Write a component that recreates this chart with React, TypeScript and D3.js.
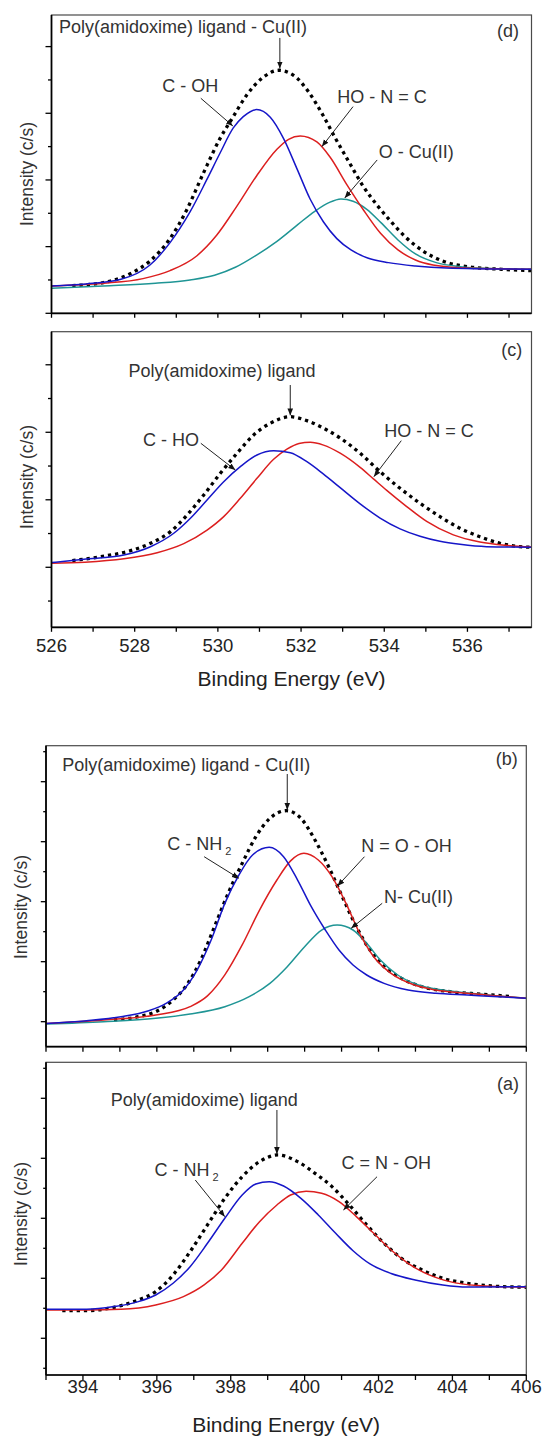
import React from 'react';
import * as d3 from 'd3';

type Pt = [number, number];

// ---------- Panel (d): O 1s, Poly(amidoxime) ligand - Cu(II)  [eV, intensity]
const dEnvelope: Pt[] = [
  [526.5, 0.415], [527.25, 0.46], [527.88, 0.59], [528.36, 0.78], [528.85, 1.12], [529.25, 1.55],
  [529.65, 2.1], [530.05, 2.62], [530.37, 2.95], [530.69, 3.27], [531.09, 3.54], [531.46, 3.645],
  [531.82, 3.57], [532.17, 3.33], [532.5, 3.0], [532.83, 2.62], [533.17, 2.25], [533.5, 1.9],
  [533.83, 1.62], [534.17, 1.37], [534.5, 1.15], [534.92, 0.94], [535.42, 0.78], [536.0, 0.7],
  [536.83, 0.66], [537.55, 0.64],
];
const dCOH: Pt[] = [
  [526.0, 0.41], [526.83, 0.44], [527.67, 0.51], [528.36, 0.72], [528.85, 1.06], [529.33, 1.52],
  [529.73, 2.0], [530.05, 2.4], [530.37, 2.78], [530.61, 2.95], [530.93, 3.055], [531.26, 2.94],
  [531.58, 2.62], [531.9, 2.17], [532.22, 1.71], [532.54, 1.37], [532.86, 1.12], [533.2, 0.95],
  [533.6, 0.83], [534.1, 0.76], [534.75, 0.71], [535.5, 0.68], [537.55, 0.66],
];
const dHONC: Pt[] = [
  [526.0, 0.41], [527.25, 0.45], [528.2, 0.52], [528.85, 0.64], [529.49, 0.86], [529.97, 1.17],
  [530.45, 1.6], [530.93, 2.06], [531.42, 2.46], [531.7, 2.61], [531.98, 2.66], [532.38, 2.57],
  [532.7, 2.34], [533.1, 1.93], [533.5, 1.55], [533.91, 1.2], [534.33, 0.95], [534.75, 0.8],
  [535.17, 0.725], [535.83, 0.685], [537.55, 0.66],
];
const dOCu: Pt[] = [
  [526.0, 0.375], [527.25, 0.41], [528.5, 0.45], [529.33, 0.5], [529.92, 0.57], [530.42, 0.69],
  [530.92, 0.87], [531.42, 1.08], [531.92, 1.33], [532.33, 1.53], [532.67, 1.66], [532.96, 1.715],
  [533.25, 1.68], [533.58, 1.56], [533.92, 1.36], [534.33, 1.1], [534.75, 0.89], [535.25, 0.76],
  [535.83, 0.7], [536.42, 0.675], [537.55, 0.66],
];

// ---------- Panel (c): O 1s, Poly(amidoxime) ligand
const cEnvelope: Pt[] = [
  [526.5, 0.1], [527.18, 0.157], [527.9, 0.246], [528.38, 0.355], [528.86, 0.528], [529.26, 0.775],
  [529.66, 1.071], [530.06, 1.393], [530.46, 1.689], [530.86, 1.96], [531.26, 2.133], [531.74, 2.231],
  [532.14, 2.172], [532.62, 2.034], [532.94, 1.915], [533.42, 1.689], [533.9, 1.416], [534.38, 1.17],
  [534.86, 0.948], [535.34, 0.75], [535.82, 0.578], [536.3, 0.453], [536.78, 0.356], [537.26, 0.306],
  [537.55, 0.296],
];
const cCHO: Pt[] = [
  [526.0, 0.07], [526.78, 0.118], [527.74, 0.182], [528.38, 0.305], [528.94, 0.504], [529.34, 0.726],
  [529.74, 0.997], [530.14, 1.268], [530.54, 1.49], [530.94, 1.664], [531.34, 1.727], [531.74, 1.698],
  [532.14, 1.564], [532.54, 1.38], [532.94, 1.18], [533.42, 0.94], [533.9, 0.73], [534.38, 0.57],
  [534.86, 0.46], [535.34, 0.385], [535.82, 0.34], [536.46, 0.305], [537.55, 0.296],
];
const cHONC: Pt[] = [
  [526.0, 0.06], [526.8, 0.075], [527.74, 0.125], [528.54, 0.215], [529.18, 0.35], [529.74, 0.55],
  [530.14, 0.75], [530.54, 1.022], [530.94, 1.318], [531.34, 1.6], [531.66, 1.75], [531.95, 1.835],
  [532.22, 1.852], [532.54, 1.81], [532.94, 1.69], [533.42, 1.48], [533.74, 1.31], [534.06, 1.14],
  [534.54, 0.9], [535.02, 0.68], [535.66, 0.48], [536.3, 0.375], [536.94, 0.325], [537.55, 0.3],
];

// ---------- Panel (b): N 1s, Poly(amidoxime) ligand - Cu(II)
const bEnvelope: Pt[] = [
  [394.84, 0.028], [395.5, 0.083], [395.97, 0.167], [396.44, 0.361], [396.81, 0.611], [397.19, 1.028],
  [397.56, 1.583], [397.93, 2.139], [398.31, 2.639], [398.68, 3.083], [399.06, 3.389], [399.51, 3.517],
  [399.9, 3.389], [400.28, 3.028], [400.65, 2.583], [401.02, 2.083], [401.4, 1.583], [401.77, 1.194],
  [402.15, 0.917], [402.62, 0.722], [403.18, 0.583], [403.93, 0.5], [404.86, 0.456], [405.61, 0.417],
];
const bCNH2: Pt[] = [
  [393.0, -0.03], [394.1, 0.017], [395.03, 0.083], [395.78, 0.183], [396.25, 0.306], [396.72, 0.528],
  [397.09, 0.861], [397.47, 1.361], [397.84, 1.972], [398.22, 2.444], [398.59, 2.778], [399.04, 2.906],
  [399.43, 2.75], [399.81, 2.361], [400.18, 1.917], [400.56, 1.528], [400.93, 1.194], [401.31, 0.944],
  [401.68, 0.778], [402.15, 0.639], [402.8, 0.528], [403.55, 0.472], [404.4, 0.444], [405.24, 0.417],
  [406.0, 0.389],
];
const bNOOH: Pt[] = [
  [393.0, -0.03], [394.56, 0.028], [395.97, 0.111], [396.9, 0.25], [397.37, 0.43], [397.84, 0.78],
  [398.31, 1.28], [398.78, 1.861], [399.25, 2.361], [399.62, 2.68], [399.98, 2.806], [400.37, 2.694],
  [400.74, 2.417], [401.12, 1.972], [401.49, 1.472], [401.87, 1.083], [402.34, 0.806], [402.9, 0.628],
  [403.55, 0.528], [404.4, 0.472], [405.24, 0.428], [406.0, 0.389],
];
const bNCu: Pt[] = [
  [393.0, -0.039], [394.56, 0.0], [395.97, 0.056], [396.9, 0.128], [397.84, 0.25], [398.5, 0.417],
  [399.06, 0.639], [399.53, 0.917], [400.0, 1.25], [400.46, 1.528], [400.88, 1.611], [401.31, 1.528],
  [401.68, 1.306], [402.05, 1.028], [402.52, 0.778], [403.08, 0.611], [403.74, 0.528], [404.49, 0.472],
  [405.24, 0.428], [406.0, 0.389],
];

// ---------- Panel (a): N 1s, Poly(amidoxime) ligand
const aEnvelope: Pt[] = [
  [393.44, 0.461], [394.1, 0.461], [394.84, 0.517], [395.5, 0.639], [395.97, 0.778], [396.44, 1.056],
  [396.9, 1.444], [397.37, 1.889], [397.84, 2.333], [398.31, 2.694], [398.78, 2.944], [399.29, 3.056],
  [399.81, 2.944], [400.28, 2.75], [400.74, 2.528], [401.21, 2.222], [401.68, 1.889], [402.15, 1.583],
  [402.62, 1.333], [403.18, 1.139], [403.74, 1.0], [404.4, 0.917], [405.05, 0.872], [406.0, 0.85],
];
const aCNH2: Pt[] = [
  [393.0, 0.483], [394.1, 0.483], [394.84, 0.528], [395.5, 0.611], [395.97, 0.722], [396.44, 0.917],
  [396.9, 1.194], [397.37, 1.583], [397.84, 2.0], [398.31, 2.389], [398.68, 2.572], [399.04, 2.611],
  [399.43, 2.539], [399.9, 2.333], [400.37, 2.056], [400.84, 1.75], [401.31, 1.46], [401.77, 1.24],
  [402.34, 1.08], [402.99, 0.972], [403.74, 0.889], [404.4, 0.855], [406.0, 0.861],
];
const aCNOH: Pt[] = [
  [393.0, 0.472], [394.1, 0.472], [395.03, 0.483], [395.97, 0.556], [396.72, 0.694], [397.28, 0.889],
  [397.75, 1.139], [398.31, 1.583], [398.78, 1.944], [399.25, 2.222], [399.62, 2.389], [400.04, 2.45],
  [400.46, 2.417], [400.93, 2.278], [401.4, 2.028], [401.87, 1.75], [402.34, 1.472], [402.8, 1.25],
  [403.37, 1.056], [403.93, 0.944], [404.68, 0.878], [405.33, 0.861], [406.0, 0.85],
];

// ---------- Axis texts
const oTickLabels = [526, 528, 530, 532, 534, 536];
const nTickLabels = [394, 396, 398, 400, 402, 404, 406];
const X_TITLE = 'Binding Energy (eV)';
const Y_TITLE = 'Intensity (c/s)';

// ---------- Styles
const BLUE = '#1616c8';
const RED = '#dc1f1f';
const TEAL = '#1f9595';
const FONT = '"Liberation Sans", Arial, Helvetica, sans-serif';
const TEXT = '#333';

interface Series { data: Pt[]; color: string; dotted?: boolean }
interface Part { t: string; sub?: boolean }
interface Label { parts: Part[]; at: Pt; anchor?: 'start' | 'end' }
interface Arrow { from: Pt; to: Pt }
interface PanelCfg {
  id: string;
  left: number; right: number; top: number; bottom: number;
  xDomain: [number, number]; yDomain: [number, number];
  series: Series[]; labels: Label[]; arrows: Arrow[];
  tickLabels?: number[]; tickLabelY?: number; titleY?: number;
  yTitleX: number; yTitleY: number;
  majorLen: number; minorLen: number; xTickLen: number;
}

const panels: PanelCfg[] = [
  {
    id: 'd', left: 51.5, right: 531.5, top: 15, bottom: 313.3,
    xDomain: [526, 537.54], yDomain: [0, 4.474],
    series: [
      { data: dEnvelope, color: '#000', dotted: true },
      { data: dOCu, color: TEAL },
      { data: dHONC, color: RED },
      { data: dCOH, color: BLUE },
    ],
    labels: [
      { parts: [{ t: 'Poly(amidoxime) ligand - Cu(II)' }], at: [526.18, 4.197] },
      { parts: [{ t: '(d)' }], at: [537.24, 4.137], anchor: 'end' },
      { parts: [{ t: 'C - OH' }], at: [528.66, 3.324] },
      { parts: [{ t: 'HO - N = C' }], at: [532.87, 3.15] },
      { parts: [{ t: 'O - Cu(II)' }], at: [533.87, 2.325] },
    ],
    arrows: [
      { from: [531.49, 4.13], to: [531.49, 3.67] },
      { from: [529.59, 3.225], to: [530.36, 2.81] },
      { from: [533.25, 3.1], to: [532.5, 2.5] },
      { from: [533.83, 2.3], to: [533.05, 1.73] },
    ],
    yTitleX: 33, yTitleY: 174, majorLen: 6, minorLen: 3.5, xTickLen: 4.5,
  },
  {
    id: 'c', left: 51.5, right: 531.5, top: 331.7, bottom: 627.3,
    xDomain: [526, 537.54], yDomain: [-0.889, 3.49],
    series: [
      { data: cEnvelope, color: '#000', dotted: true },
      { data: cHONC, color: RED },
      { data: cCHO, color: BLUE },
    ],
    labels: [
      { parts: [{ t: '(c)' }], at: [537.32, 3.13], anchor: 'end' },
      { parts: [{ t: 'Poly(amidoxime) ligand' }], at: [527.85, 2.824] },
      { parts: [{ t: 'C - HO' }], at: [528.2, 1.797] },
      { parts: [{ t: 'HO - N = C' }], at: [534.0, 1.926] },
    ],
    arrows: [
      { from: [531.74, 2.7], to: [531.74, 2.25] },
      { from: [529.59, 1.837], to: [530.42, 1.441] },
      { from: [534.41, 1.876], to: [533.75, 1.342] },
    ],
    tickLabels: oTickLabels, tickLabelY: 651.7, titleY: 686,
    yTitleX: 33, yTitleY: 477, majorLen: 6, minorLen: 3.5, xTickLen: 4.5,
  },
  {
    id: 'b', left: 46, right: 526.3, top: 745.7, bottom: 1046.7,
    xDomain: [393, 406], yDomain: [-0.417, 4.6],
    series: [
      { data: bEnvelope, color: '#000', dotted: true },
      { data: bNCu, color: TEAL },
      { data: bNOOH, color: RED },
      { data: bCNH2, color: BLUE },
    ],
    labels: [
      { parts: [{ t: '(b)' }], at: [405.77, 4.278], anchor: 'end' },
      { parts: [{ t: 'Poly(amidoxime) ligand - Cu(II)' }], at: [393.44, 4.183] },
      { parts: [{ t: 'C - NH' }, { t: '2', sub: true }], at: [396.28, 2.862] },
      { parts: [{ t: 'N = O - OH' }], at: [401.53, 2.833] },
      { parts: [{ t: 'N- Cu(II)' }], at: [402.15, 1.983] },
    ],
    arrows: [
      { from: [399.53, 4.128], to: [399.53, 3.53] },
      { from: [397.28, 2.75], to: [398.22, 2.39] },
      { from: [401.62, 2.75], to: [400.89, 2.262] },
      { from: [402.1, 1.973], to: [401.26, 1.557] },
    ],
    yTitleX: 27, yTitleY: 907, majorLen: 5.2, minorLen: 2.8, xTickLen: 5,
  },
  {
    id: 'a', left: 46, right: 526.3, top: 1062.3, bottom: 1375,
    xDomain: [393, 406], yDomain: [-0.612, 4.6],
    series: [
      { data: aEnvelope, color: '#000', dotted: true },
      { data: aCNOH, color: RED },
      { data: aCNH2, color: BLUE },
    ],
    labels: [
      { parts: [{ t: '(a)' }], at: [405.8, 4.138], anchor: 'end' },
      { parts: [{ t: 'Poly(amidoxime) ligand' }], at: [394.75, 3.872] },
      { parts: [{ t: 'C - NH' }, { t: '2', sub: true }], at: [395.94, 2.71] },
      { parts: [{ t: 'C = N - OH' }], at: [401.0, 2.817] },
    ],
    arrows: [
      { from: [399.25, 3.805], to: [399.25, 3.07] },
      { from: [397.04, 2.638], to: [397.84, 2.027] },
      { from: [401.96, 2.693], to: [401.05, 2.138] },
    ],
    tickLabels: nTickLabels, tickLabelY: 1393.3, titleY: 1432,
    yTitleX: 27, yTitleY: 1214, majorLen: 5.2, minorLen: 2.8, xTickLen: 5,
  },
];

function Panel({ cfg }: { cfg: PanelCfg }) {
  const x = d3.scaleLinear().domain(cfg.xDomain).range([cfg.left, cfg.right]);
  const y = d3.scaleLinear().domain(cfg.yDomain).range([cfg.bottom, cfg.top]);
  const line = d3.line<Pt>().x(d => x(d[0])).y(d => y(d[1])).curve(d3.curveMonotoneX);

  const xTicks = d3.range(Math.ceil(cfg.xDomain[0]), Math.floor(cfg.xDomain[1]) + 1, 1);
  const kMin = Math.ceil(cfg.yDomain[0] / 0.5 - 1e-6);
  const kMax = Math.floor(cfg.yDomain[1] / 0.5 + 1e-6);
  const yTicks = d3.range(kMin, kMax + 1).map(k => ({ v: k * 0.5, major: k % 2 === 0 }));
  const clipId = `clip-${cfg.id}`;

  return (
    <g>
      <defs>
        <clipPath id={clipId}>
          <rect x={cfg.left} y={cfg.top} width={cfg.right - cfg.left} height={cfg.bottom - cfg.top} />
        </clipPath>
      </defs>
      <g clipPath={`url(#${clipId})`}>
        {cfg.series.map((s, i) => (
          <path
            key={i}
            d={line(s.data) || ''}
            fill="none"
            stroke={s.color}
            strokeWidth={s.dotted ? 3.3 : 1.5}
            strokeDasharray={s.dotted ? '3.3 3.9' : undefined}
            strokeLinejoin="round"
          />
        ))}
      </g>
      <rect x={cfg.left} y={cfg.top} width={cfg.right - cfg.left} height={cfg.bottom - cfg.top}
        fill="none" stroke="#4a4a4a" strokeWidth={1.2} />
      <line x1={cfg.left} x2={cfg.left} y1={cfg.top} y2={cfg.bottom} stroke="#000" strokeWidth={1.7} />
      <line x1={cfg.left} x2={cfg.right} y1={cfg.bottom} y2={cfg.bottom} stroke="#000" strokeWidth={1.7} />
      {yTicks.map((t, i) => (
        <line key={`y${i}`} x1={cfg.left - (t.major ? cfg.majorLen : cfg.minorLen)} x2={cfg.left}
          y1={y(t.v)} y2={y(t.v)} stroke="#000" strokeWidth={1.3} />
      ))}
      {xTicks.map((t, i) => (
        <line key={`x${i}`} x1={x(t)} x2={x(t)} y1={cfg.bottom} y2={cfg.bottom + cfg.xTickLen}
          stroke="#000" strokeWidth={1.3} />
      ))}
      {cfg.tickLabels && cfg.tickLabels.map((t, i) => (
        <text key={`xl${i}`} x={x(t)} y={cfg.tickLabelY} textAnchor="middle" fontSize={18.5}
          fontFamily={FONT} fill="#222">{t}</text>
      ))}
      {cfg.titleY !== undefined && (
        <text x={(cfg.left + cfg.right) / 2} y={cfg.titleY} textAnchor="middle" fontSize={21}
          fontFamily={FONT} fill="#222">{X_TITLE}</text>
      )}
      <text transform={`translate(${cfg.yTitleX},${cfg.yTitleY}) rotate(-90)`} textAnchor="middle"
        fontSize={17.5} fontFamily={FONT} fill={TEXT}>{Y_TITLE}</text>
      {cfg.arrows.map((a, i) => (
        <line key={`a${i}`} x1={x(a.from[0])} y1={y(a.from[1])} x2={x(a.to[0])} y2={y(a.to[1])}
          stroke="#222" strokeWidth={1} markerEnd="url(#arrowhead)" />
      ))}
      {cfg.labels.map((l, i) => (
        <text key={`l${i}`} x={x(l.at[0])} y={y(l.at[1])} textAnchor={l.anchor || 'start'}
          fontSize={18} fontFamily={FONT} fill={TEXT}>
          {l.parts.map((p, j) => p.sub ? (
            <tspan key={j} dx={3} dy={5} fontSize={11}>{p.t}</tspan>
          ) : (
            <tspan key={j}>{p.t}</tspan>
          ))}
        </text>
      ))}
    </g>
  );
}

export default function App() {
  return (
    <svg width={542} height={1440} viewBox="0 0 542 1440"
      style={{ position: 'absolute', left: 0, top: 0, display: 'block', background: '#fff' }}>
      <defs>
        <marker id="arrowhead" viewBox="0 0 10 10" refX={10} refY={5} markerWidth={7} markerHeight={7}
          markerUnits="userSpaceOnUse" orient="auto">
          <path d="M0,1 L10,5 L0,9 z" fill="#111" />
        </marker>
      </defs>
      <rect x={0} y={0} width={542} height={1440} fill="#fff" />
      {panels.map(p => <Panel key={p.id} cfg={p} />)}
    </svg>
  );
}
